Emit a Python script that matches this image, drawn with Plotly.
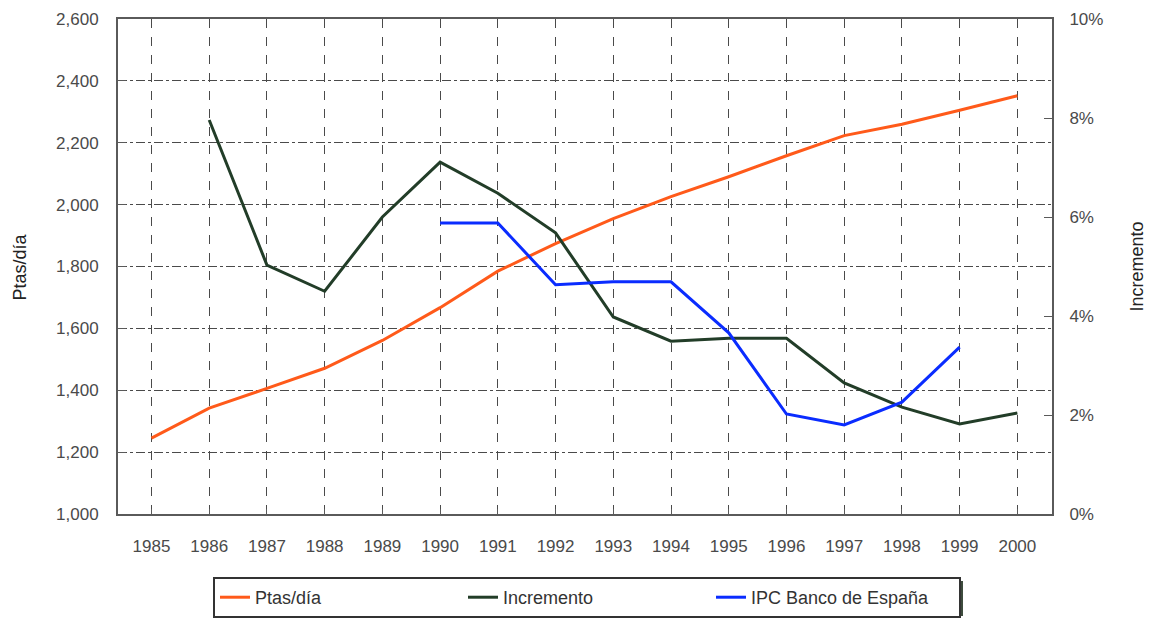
import plotly.graph_objects as go

years = list(range(1985, 2001))
ptas_dia = [1245, 1342, 1406, 1471, 1561, 1667, 1785, 1874, 1955, 2026,
            2090, 2158, 2223, 2260, 2305, 2352]
incremento_years = list(range(1986, 2001))
incremento = [7.96, 5.03, 4.50, 6.00, 7.11, 6.48, 5.68, 3.98, 3.49, 3.55,
              3.55, 2.65, 2.16, 1.82, 2.04]
ipc_years = list(range(1990, 2000))
ipc = [5.88, 5.88, 4.63, 4.69, 4.69, 3.66, 2.02, 1.80, 2.26, 3.37]

left_ticks = list(range(1000, 2601, 200))
right_ticks = list(range(0, 11, 2))
right_labels = [f"{v}%" for v in right_ticks]

FONT = "Liberation Sans, Arial, sans-serif"
AXIS_COL = "#5a5a5a"
GRID_COL = "#4a4a4a"
TICK_FONT = dict(size=17, color="#4a4a4a")

fig = go.Figure()
fig.add_trace(go.Scatter(x=years, y=ptas_dia, name="Ptas/día", mode="lines",
                         line=dict(color="#ff5a1a", width=3)))
fig.add_trace(go.Scatter(x=incremento_years, y=incremento, name="Incremento", mode="lines",
                         line=dict(color="#223d28", width=3), yaxis="y2"))
fig.add_trace(go.Scatter(x=ipc_years, y=ipc, name="IPC Banco de España", mode="lines",
                         line=dict(color="#0a2cff", width=3), yaxis="y2"))

# page body has an 8px margin, so the figure is drawn 8px smaller and offset
fig.update_layout(
    width=1144, height=613,
    margin=dict(l=110, r=100, t=11, b=107, autoexpand=False),
    paper_bgcolor="white", plot_bgcolor="white",
    font=dict(family=FONT, size=13, color="#444"),
    xaxis=dict(range=[1984.42, 2000.6], tickvals=years, ticks="inside", ticklen=5,
               tickcolor=AXIS_COL, showline=True, mirror=True, linecolor=AXIS_COL,
               linewidth=2, showgrid=True, gridcolor=GRID_COL, gridwidth=1,
               griddash="dash", zeroline=False, automargin=False,
               ticklabelstandoff=16, tickfont=TICK_FONT),
    yaxis=dict(range=[1000, 2600], tickvals=left_ticks, tickformat=",",
               ticks="inside", ticklen=8, tickcolor=AXIS_COL, showline=True,
               linecolor=AXIS_COL, linewidth=2, showgrid=True, gridcolor=GRID_COL,
               gridwidth=1, griddash="dashdot", zeroline=False, automargin=False,
               ticklabelstandoff=14, tickfont=TICK_FONT),
    yaxis2=dict(range=[0, 10], tickvals=right_ticks, ticktext=right_labels,
                overlaying="y", side="right", ticks="inside", ticklen=8,
                tickcolor=AXIS_COL, showline=True, linecolor=AXIS_COL, linewidth=2,
                showgrid=False, zeroline=False, automargin=False,
                ticklabelstandoff=12, tickfont=TICK_FONT),
    legend=dict(orientation="h", x=0.1017, y=-0.1273, xanchor="left", yanchor="top",
                entrywidth=203, bordercolor="#333", borderwidth=2, bgcolor="white",
                font=dict(size=18, color="#333"), itemwidth=30),
    showlegend=True,
)

# axis titles
fig.add_annotation(text="Ptas/día", xref="paper", yref="paper", x=-0.105, y=0.5,
                   xanchor="center", yanchor="middle", textangle=-90, showarrow=False,
                   font=dict(size=18, color="#222"))
fig.add_annotation(text="Incremento", xref="paper", yref="paper", x=1.091, y=0.5,
                   xanchor="center", yanchor="middle", textangle=-90, showarrow=False,
                   font=dict(size=18, color="#222"))

# legend drop shadow
fig.add_shape(type="rect", xref="paper", yref="paper", x0=0.106, x1=0.9047,
              y0=-0.2061, y1=-0.1354, line=dict(width=0), fillcolor="#3c4a3c", layer="below")

fig.write_html("out.html")
